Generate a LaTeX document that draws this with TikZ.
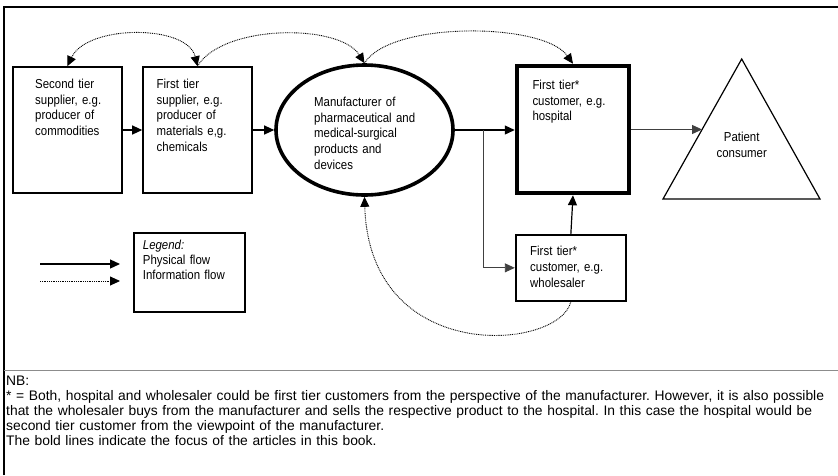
\documentclass[tikz,border=0pt]{standalone}
\usepackage{fontspec}
\setmainfont{Liberation Sans}
\newfontfamily\boxfont{Liberation Sans}[FakeStretch=0.88]
\usetikzlibrary{arrows.meta,shapes.geometric}
\frenchspacing

\begin{document}
\begin{tikzpicture}[x=1pt, y=-1pt,
  tip/.tip={Triangle[length=10pt, width=9pt]},
  box/.style={draw, line width=1.6pt, inner sep=0pt, anchor=center},
  focusbox/.style={draw, line width=4.5pt, inner sep=0pt, anchor=center},
  txt/.style={anchor=base west, inner sep=0pt, align=left, text width=#1,
    font=\boxfont\fontsize{13}{15.7}\selectfont},
  txt/.default=120pt,
  phys/.style={line width=1.2pt, -tip},
  info/.style={line width=0.9pt, dash pattern=on 0.9pt off 0.9pt},
]
\useasboundingbox (0,0) rectangle (838,475);

% outer frame and separator above the notes
\draw[line width=1.5pt] (4,475) -- (4,7) -- (838,7);
\draw[black!45, line width=0.9pt] (4,370) -- (838,370);

% actors of the supply chain
\node[box, minimum width=109.3pt, minimum height=126pt] (tier2) at (67.35,130) {};
\node[box, minimum width=109pt, minimum height=126pt] (tier1) at (197.5,130) {};
\node[draw, ellipse, line width=3.6pt, inner sep=0pt, minimum width=177pt, minimum height=130pt] (mfr) at (364.5,130) {};
\node[focusbox, minimum width=112pt, minimum height=127pt] (hosp) at (573,129.5) {};
\node[box, line width=1.8pt, minimum width=110.3pt, minimum height=65.7pt] (whs) at (570.85,267.85) {};
\node[box, line width=1.5pt, minimum width=111pt, minimum height=79pt] (legend) at (189.5,272.5) {};

% patient triangle
\coordinate (apex) at (741.7,59);
\coordinate (baseL) at (663,199);
\coordinate (baseR) at (820,199);
\draw[line width=1.2pt, line join=miter] (apex) -- (baseL) -- (baseR) -- cycle;
\coordinate (patientedge) at (702.1,129.5);

% texts
\node[txt] (t2txt) at (35,88.3) {Second tier\\supplier, e.g.\\producer of\\commodities};
\node[txt] (t1txt) at (156.5,88.3) {First tier\\supplier, e.g.\\producer of\\materials e,g.\\chemicals};
\node[txt] (mfrtxt) at (314,106.5) {Manufacturer of\\pharmaceutical and\\medical-surgical\\products and\\devices};
\node[txt] (hosptxt) at (532.3,89.3) {First tier*\\customer, e.g.\\hospital};
\node[txt, font=\boxfont\fontsize{13}{16.3}\selectfont] (whstxt) at (530,255) {First tier*\\customer, e.g.\\wholesaler};
\node[anchor=base, inner sep=0pt, align=center, text width=80pt,
  font=\boxfont\fontsize{13}{16}\selectfont] (patient) at (741.7,141.7) {Patient\\consumer};
\node[anchor=base west, inner sep=0pt, align=left, text width=100pt,
  font=\boxfont\fontsize{13}{15}\selectfont] (legtxt) at (142.7,249.3)
  {\textit{Legend:}\\Physical flow\\Information flow};
\node[anchor=base west, inner sep=0pt, align=left, text width=830pt,
  font=\fontsize{13.85}{15}\selectfont] (notes) at (6,385)
  {NB:\\
   {*} = Both, hospital and wholesaler could be first tier customers from the perspective of the manufacturer. However, it is also possible\\
   that the wholesaler buys from the manufacturer and sells the respective product to the hospital. In this case the hospital would be\\
   second tier customer from the viewpoint of the manufacturer.\\
   The bold lines indicate the focus of the articles in this book.};

% physical flows
\coordinate (split) at (483,130);
\draw[phys] (tier2) -- (tier1);
\draw[phys] (tier1) -- (mfr);
\draw[phys] (mfr.east) -- (mfr.east -| hosp.west);
\draw[line width=0.9pt, black!75, -tip] (split) |- (whs.west);
\draw[phys] (whs.north) -- (hosp.south);
\draw[line width=0.9pt, black!75, -tip] (hosp.east) -- (patientedge);

% information flows
\draw[info, tip-tip] (tier2.north) .. controls +(20,-42) and +(-10,-42) .. (tier1.north);
\draw[info, -tip] (tier1.north) .. controls +(25,-42) and +(-25,-40) .. (mfr.north);
\draw[info, -tip] (mfr.north) .. controls +(25,-42) and +(-30,-42) .. (hosp.north);
\draw[info, -tip] (whs.south) .. controls +(-11,49) and +(5,170) .. (mfr.south);

% legend arrows
\coordinate (physA) at (40,264);
\coordinate (physB) at (120,264);
\coordinate (infoA) at (40,281);
\coordinate (infoB) at (120,281);
\draw[phys] (physA) -- (physB);
\draw[info, -tip] (infoA) -- (infoB);
\end{tikzpicture}
\end{document}
